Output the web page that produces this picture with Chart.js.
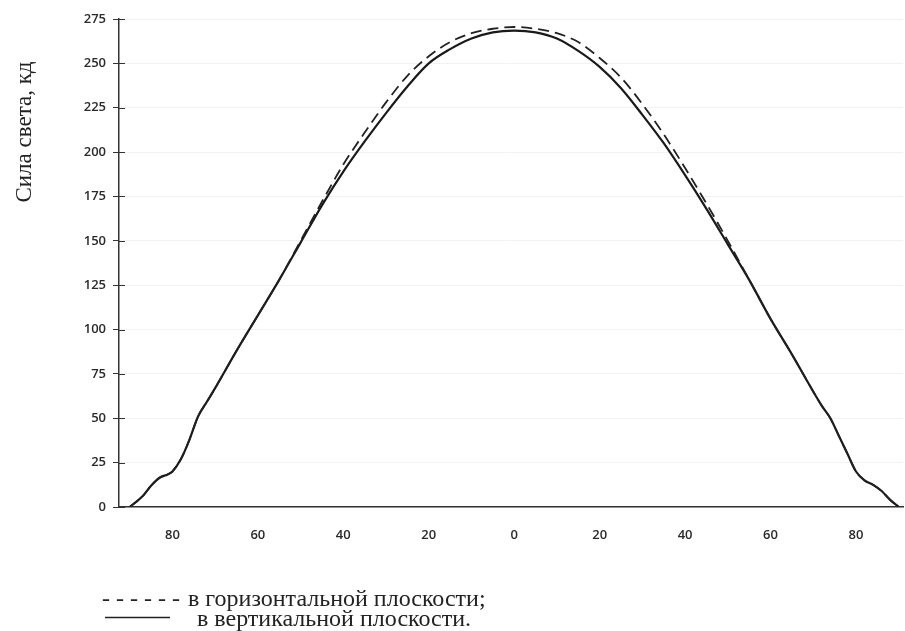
<!DOCTYPE html>
<html lang="ru">
<head>
<meta charset="utf-8">
<title>Кривая силы света</title>
<script src="https://cdn.jsdelivr.net/npm/chart.js@4"></script>
<style>
  html, body { margin: 0; padding: 0; background: #fff; }
  #wrap { position: relative; width: 905px; height: 631px; }
</style>
</head>
<body>
<div id="wrap"><canvas id="lumChart" width="905" height="631"></canvas></div>
<script>
// углы, град (подписи на оси по модулю)
const angles = [-90, -87, -85, -83, -81, -80, -78, -76, -74, -72, -70, -65, -60, -55, -50, -45, -40, -35, -30, -25, -20, -15, -10, -5,
  0, 5, 10, 15, 20, 25, 30, 35, 40, 45, 50, 55, 60, 65, 70, 72, 74, 76, 78, 80, 82, 84, 86, 88, 90];

// сила света, кд — в вертикальной плоскости
const verticalCd = [0, 6, 12, 16.5, 18.5, 20, 27, 38, 51, 59, 67, 88, 108, 128, 149, 170, 189, 206, 222, 237, 250, 258, 264, 267.5,
  268.5, 267.5, 264, 257, 248, 236, 221, 205, 187, 168, 148, 128, 106, 86, 65, 57, 50, 40, 30, 20, 15, 12.5, 9, 4, 0];

// сила света, кд — в горизонтальной плоскости
const horizontalCd = [0, 6, 12, 16.5, 18.5, 20, 27, 38, 51, 59, 67, 88, 108, 128, 150, 172, 193, 211, 228, 243, 254, 262, 267, 269.5,
  270.5, 269.5, 267, 262, 253, 242, 227, 210, 191, 171, 150, 128, 106, 86, 65, 57, 50, 40, 30, 20, 15, 12.5, 9, 4, 0];

const xTicks = [-80, -60, -40, -20, 0, 20, 40, 60, 80];
const yTicks = [0, 25, 50, 75, 100, 125, 150, 175, 200, 225, 250, 275];

const yTitle = 'Сила света, кд';
const legendDashed = 'в горизонтальной плоскости;';
const legendSolid = 'в вертикальной плоскости.';

const toPoints = vals => angles.map((a, i) => ({ x: a, y: vals[i] }));

// риски внутрь поля графика на оси Y, подпись оси и легенда
const extras = {
  id: 'extras',
  afterDraw(chart) {
    const ctx = chart.ctx;
    const y = chart.scales.y;
    ctx.save();
    ctx.strokeStyle = '#333';
    ctx.lineWidth = 1;
    yTicks.forEach(v => {
      const py = Math.round(y.getPixelForValue(v)) + 0.5;
      ctx.beginPath();
      ctx.moveTo(y.right, py);
      ctx.lineTo(y.right + 6, py);
      ctx.stroke();
    });

    ctx.fillStyle = '#222';
    ctx.font = '23px "Liberation Serif", "Times New Roman", serif';
    ctx.textAlign = 'center';
    ctx.textBaseline = 'middle';
    ctx.translate(25, 132);
    ctx.rotate(-Math.PI / 2);
    ctx.fillText(yTitle, 0, 0);
    ctx.restore();

    ctx.save();
    ctx.fillStyle = '#222';
    ctx.font = '24px "Liberation Serif", "Times New Roman", serif';
    ctx.textBaseline = 'middle';
    ctx.textAlign = 'left';
    ctx.fillText('- - - - - -', 102, 600);
    ctx.fillText(legendDashed, 188, 600);
    ctx.strokeStyle = '#222';
    ctx.lineWidth = 1.5;
    ctx.beginPath();
    ctx.moveTo(105, 617.5);
    ctx.lineTo(170, 617.5);
    ctx.stroke();
    ctx.fillText(legendSolid, 197, 620);
    ctx.restore();
  }
};

new Chart(document.getElementById('lumChart'), {
  type: 'line',
  data: {
    datasets: [
      {
        label: legendDashed,
        data: toPoints(horizontalCd),
        borderColor: '#222',
        borderWidth: 1.8,
        borderDash: [11, 6],
        pointRadius: 0,
        cubicInterpolationMode: 'monotone',
        fill: false
      },
      {
        label: legendSolid,
        data: toPoints(verticalCd),
        borderColor: '#1a1a1a',
        borderWidth: 2.2,
        pointRadius: 0,
        cubicInterpolationMode: 'monotone',
        fill: false
      }
    ]
  },
  options: {
    responsive: false,
    animation: false,
    layout: { padding: { top: 19, right: 2, bottom: 0, left: 0 } },
    plugins: { legend: { display: false }, tooltip: { enabled: false } },
    scales: {
      x: {
        type: 'linear',
        min: -92.5,
        max: 91,
        afterBuildTicks: s => { s.ticks = xTicks.map(v => ({ value: v })); },
        afterFit: s => { s.height = 124; },
        grid: { display: false },
        border: { display: true, color: '#333', width: 1.5 },
        ticks: {
          padding: 12,
          color: '#2a2a2a',
          font: { family: 'Open Sans', size: 13, weight: '600' },
          callback: v => String(Math.abs(v))
        }
      },
      y: {
        min: 0,
        max: 275,
        afterBuildTicks: s => { s.ticks = yTicks.map(v => ({ value: v })); },
        afterFit: s => { s.width = 119; },
        grid: {
          drawOnChartArea: true,
          color: 'rgba(0,0,0,0.05)',
          tickColor: '#333',
          tickLength: 6
        },
        border: { display: true, color: '#333', width: 1.5 },
        ticks: {
          padding: 7,
          color: '#2a2a2a',
          font: { family: 'Open Sans', size: 13, weight: '600' }
        }
      }
    }
  },
  plugins: [extras]
});
</script>
</body>
</html>
